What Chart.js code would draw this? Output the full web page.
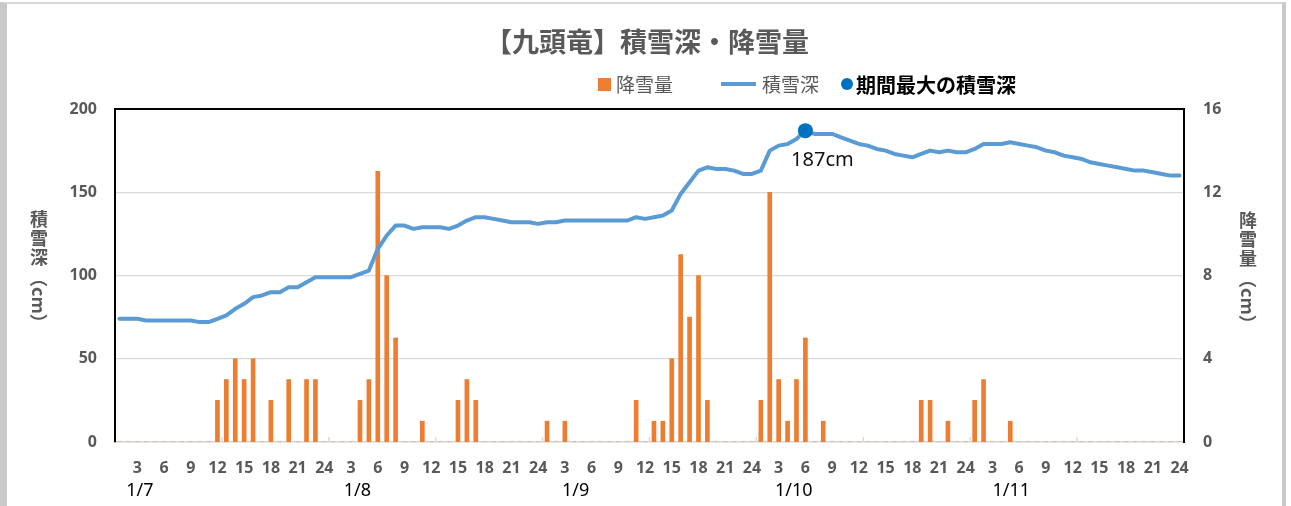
<!DOCTYPE html>
<html lang="ja">
<head>
<meta charset="utf-8">
<script src="https://cdn.jsdelivr.net/npm/chart.js@4.4.1/dist/chart.umd.min.js"></script>
<style>
  html, body { margin: 0; padding: 0; background: #fff; overflow: hidden; }
  #frame { position: absolute; left: 0; top: 2px; width: 1275px; height: 520px;
           border-left: 7px solid #c9c9c9; border-top: 2px solid #d6d6d6; border-right: 4px solid #c9c9c9; }
  #chart { position: absolute; left: 0; top: 0; }
</style>
</head>
<body>
<div id="frame"></div>
<canvas id="chart" width="1291" height="506"></canvas>
<script>
// 1/7 1時 〜 1/11 24時 の毎時データ
const days = ['1/7', '1/8', '1/9', '1/10', '1/11'];
const hoursOfDay = [1, 2, 3, 4, 5, 6, 7, 8, 9, 10, 11, 12, 13, 14, 15, 16, 17, 18, 19, 20, 21, 22, 23, 24];

// 降雪量 (cm)
const snowfall = [
  0, 0, 0, 0, 0, 0, 0, 0, 0, 0, 0, 2, 3, 4, 3, 4, 0, 2, 0, 3, 0, 3, 3, 0,
  0, 0, 0, 2, 3, 13, 8, 5, 0, 0, 1, 0, 0, 0, 2, 3, 2, 0, 0, 0, 0, 0, 0, 0,
  1, 0, 1, 0, 0, 0, 0, 0, 0, 0, 2, 0, 1, 1, 4, 9, 6, 8, 2, 0, 0, 0, 0, 0,
  2, 12, 3, 1, 3, 5, 0, 1, 0, 0, 0, 0, 0, 0, 0, 0, 0, 0, 2, 2, 0, 1, 0, 0,
  2, 3, 0, 0, 1, 0, 0, 0, 0, 0, 0, 0, 0, 0, 0, 0, 0, 0, 0, 0, 0, 0, 0, 0
];

// 積雪深 (cm)
const snowDepth = [
  74, 74, 74, 73, 73, 73, 73, 73, 73, 72, 72, 74, 76, 80, 83, 87, 88, 90, 90, 93, 93, 96, 99, 99,
  99, 99, 99, 101, 103, 116, 124, 130, 130, 128, 129, 129, 129, 128, 130, 133, 135, 135, 134, 133, 132, 132, 132, 131,
  132, 132, 133, 133, 133, 133, 133, 133, 133, 133, 135, 134, 135, 136, 139, 149, 156, 163, 165, 164, 164, 163, 161, 161,
  163, 175, 178, 179, 182, 187, 185, 185, 185, 183, 181, 179, 178, 176, 175, 173, 172, 171, 173, 175, 174, 175, 174, 174,
  176, 179, 179, 179, 180, 179, 178, 177, 175, 174, 172, 171, 170, 168, 167, 166, 165, 164, 163, 163, 162, 161, 160, 160
];

const depthTicks = [0, 50, 100, 150, 200];
const fallTicks = [0, 4, 8, 12, 16];

// where each date label sits, in hour-slot units on the x axis
const dateLabelAt = [2.3, 26.7, 51.2, 75.7, 100.1];

const labels = [];
days.forEach(d => hoursOfDay.forEach(h => labels.push(h)));

const maxDepth = Math.max(...snowDepth);
const maxIndex = snowDepth.indexOf(maxDepth);
const maxPoint = snowDepth.map((v, i) => (i === maxIndex ? v : null));

const GRAY = '#595959';
const JP = '"Noto Sans CJK JP", "Noto Sans", sans-serif';
const NUM = '"Noto Sans", "Noto Sans CJK JP", sans-serif';

function verticalTitle(ctx, chars, suffix, cx, top) {
  ctx.save();
  ctx.fillStyle = GRAY;
  ctx.font = 'bold 18px ' + JP;
  ctx.textAlign = 'center';
  ctx.textBaseline = 'middle';
  let y = top;
  for (const ch of chars) {
    ctx.fillText(ch, cx, y + 9);
    y += 19;
  }
  ctx.translate(cx, y + 2);
  ctx.rotate(Math.PI / 2);
  ctx.textAlign = 'left';
  ctx.fillText(suffix, 0, 0);
  ctx.restore();
}

const overlay = {
  id: 'overlay',
  afterDraw(chart) {
    const { ctx, chartArea, scales } = chart;
    const x = scales.x;
    ctx.save();

    // title
    ctx.fillStyle = GRAY;
    ctx.font = 'bold 27px ' + JP;
    ctx.textAlign = 'center';
    ctx.textBaseline = 'middle';
    ctx.fillText('【九頭竜】積雪深・降雪量', 647, 42);

    // legend
    ctx.textAlign = 'left';
    ctx.font = '19px ' + JP;
    ctx.fillStyle = '#ED7D31';
    ctx.fillRect(598, 78, 13, 13);
    ctx.fillStyle = GRAY;
    ctx.fillText('降雪量', 616, 85);
    ctx.strokeStyle = '#5B9BD5';
    ctx.lineWidth = 4;
    ctx.beginPath();
    ctx.moveTo(721, 84);
    ctx.lineTo(756, 84);
    ctx.stroke();
    ctx.fillText('積雪深', 762, 85);
    ctx.fillStyle = '#0070C0';
    ctx.beginPath();
    ctx.arc(847, 84, 6, 0, Math.PI * 2);
    ctx.fill();
    ctx.fillStyle = '#000';
    ctx.font = 'bold 20px ' + JP;
    ctx.fillText('期間最大の積雪深', 856, 85);

    // axis titles
    verticalTitle(ctx, '積雪深', '（cm）', 39, 210);
    verticalTitle(ctx, '降雪量', '（cm）', 1248, 211);

    // small tick marks every 12 hours
    ctx.strokeStyle = '#d9d9d9';
    ctx.lineWidth = 1.5;
    for (let i = 12; i < labels.length; i += 12) {
      const px = (x.getPixelForValue(i - 1) + x.getPixelForValue(i)) / 2;
      ctx.beginPath();
      ctx.moveTo(px, chartArea.bottom);
      ctx.lineTo(px, chartArea.bottom - 5);
      ctx.stroke();
    }

    // date labels
    ctx.fillStyle = '#000';
    ctx.font = '18px ' + NUM;
    ctx.textAlign = 'center';
    days.forEach((d, k) => {
      ctx.fillText(d, x.getPixelForValue(dateLabelAt[k]), 491);
    });

    // max label
    const pt = chart.getDatasetMeta(0).data[maxIndex];
    ctx.font = '20px ' + NUM;
    ctx.fillStyle = '#111';
    ctx.fillText(maxDepth + 'cm', pt.x + 17, pt.y + 30);

    ctx.restore();
  }
};

new Chart(document.getElementById('chart'), {
  type: 'bar',
  data: {
    labels: labels,
    datasets: [
      {
        type: 'line',
        label: '期間最大の積雪深',
        data: maxPoint,
        yAxisID: 'y',
        showLine: false,
        pointRadius: 7.5,
        pointBackgroundColor: '#0070C0',
        pointBorderWidth: 0,
        order: 0
      },
      {
        type: 'line',
        label: '積雪深',
        data: snowDepth,
        yAxisID: 'y',
        borderColor: '#5B9BD5',
        borderWidth: 4,
        pointRadius: 0,
        tension: 0,
        borderJoinStyle: 'round',
        borderCapStyle: 'round',
        order: 1
      },
      {
        type: 'bar',
        label: '降雪量',
        data: snowfall,
        yAxisID: 'y2',
        backgroundColor: '#ED7D31',
        barThickness: 4,
        order: 2
      }
    ]
  },
  options: {
    responsive: false,
    animation: false,
    devicePixelRatio: 1,
    layout: { padding: { top: 109, left: 0, right: 0, bottom: 0 } },
    plugins: {
      legend: { display: false },
      title: { display: false },
      tooltip: { enabled: false }
    },
    scales: {
      x: {
        type: 'category',
        offset: true,
        grid: { display: false },
        border: { color: '#d9d9d9', width: 1.5 },
        ticks: {
          autoSkip: false,
          maxRotation: 0,
          padding: 9,
          color: GRAY,
          font: { family: NUM, size: 16, weight: 'bold' },
          callback: (v, i) => (labels[i] % 3 === 0 ? String(labels[i]) : '')
        },
        afterFit: s => { s.height = 64; }
      },
      y: {
        position: 'left',
        min: depthTicks[0],
        max: depthTicks[depthTicks.length - 1],
        afterBuildTicks: s => { s.ticks = depthTicks.map(v => ({ value: v })); },
        grid: {
          drawTicks: false,
          color: c => (c.tick.value === 200 ? '#000' : '#d9d9d9'),
          lineWidth: c => (c.tick.value === 200 ? 2 : 1.2)
        },
        border: { color: '#000', width: 2 },
        ticks: {
          padding: 18,
          color: GRAY,
          font: { family: NUM, size: 16, weight: 'bold' }
        },
        afterFit: s => { s.width = 115; }
      },
      y2: {
        position: 'right',
        min: fallTicks[0],
        max: fallTicks[fallTicks.length - 1],
        afterBuildTicks: s => { s.ticks = fallTicks.map(v => ({ value: v })); },
        grid: { display: false, drawTicks: false },
        border: { color: '#000', width: 2 },
        ticks: {
          padding: 19,
          color: GRAY,
          font: { family: NUM, size: 16, weight: 'bold' }
        },
        afterFit: s => { s.width = 107; }
      }
    }
  },
  plugins: [overlay]
});
</script>
</body>
</html>
